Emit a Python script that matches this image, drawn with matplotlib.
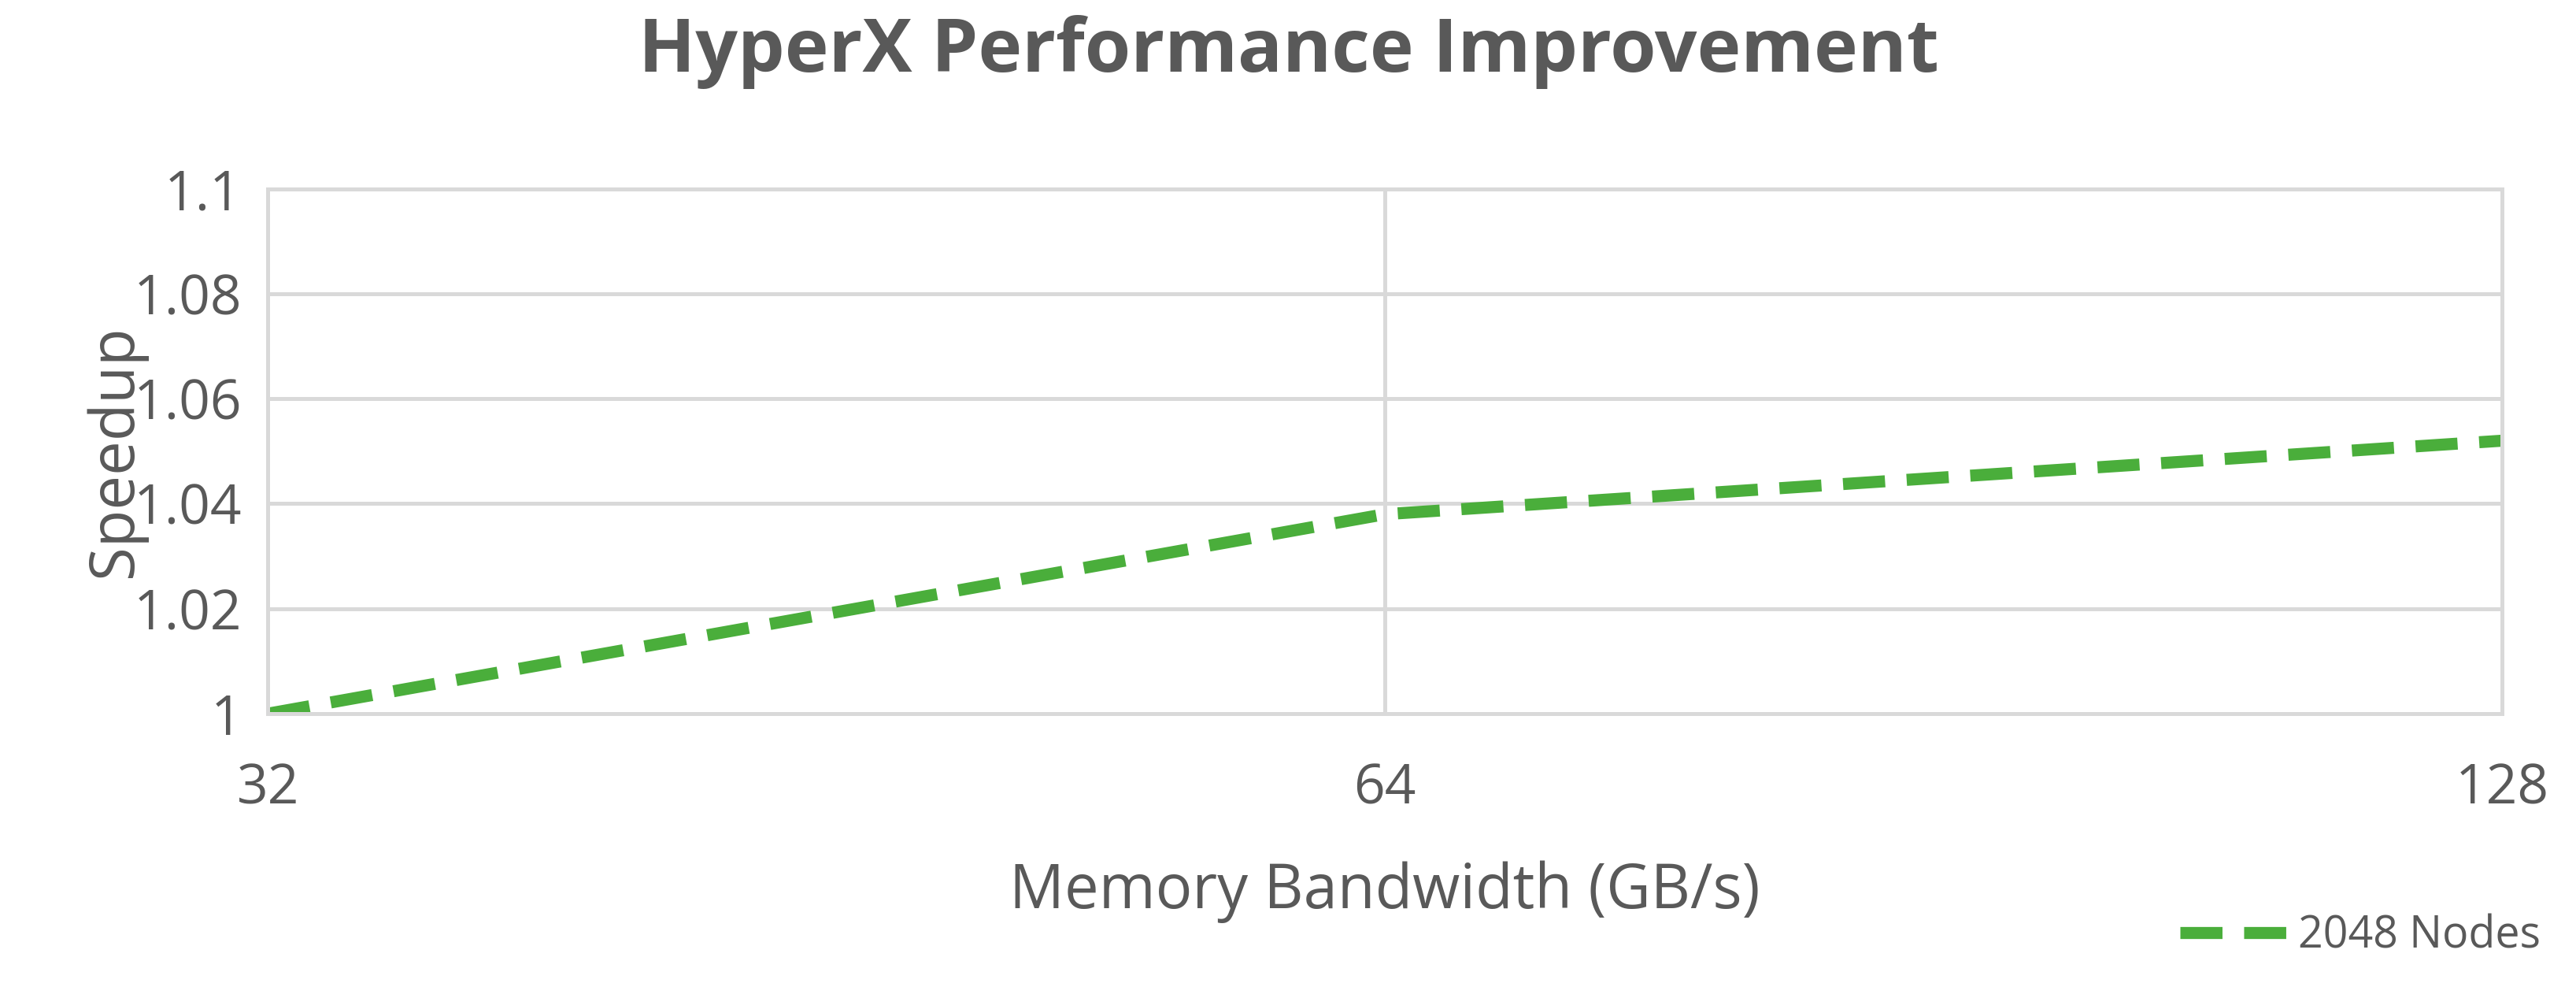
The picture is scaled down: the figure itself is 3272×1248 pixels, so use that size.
import matplotlib
matplotlib.use("Agg")
import matplotlib.pyplot as plt

bandwidth = ["32", "64", "128"]
speedup = [1.0, 1.038, 1.052]
series_label = "2048 Nodes"

plt.rcParams["font.family"] = ["Open Sans", "DejaVu Sans"]
TXT = "#595959"

fig = plt.figure(figsize=(16.365, 6.24), dpi=200)
ax = fig.add_axes([0.104, 0.274, 0.867, 0.534])

x = list(range(len(bandwidth)))
ax.plot(x, speedup, color="#4aae3b", linewidth=5.5, dashes=(3.5, 1.8), label=series_label)

ax.set_xlim(0, 2)
ax.set_ylim(1.0, 1.1)
ax.set_xticks(x)
ax.set_xticklabels(bandwidth)
ax.set_yticks([1.0, 1.02, 1.04, 1.06, 1.08, 1.1])
ax.set_yticklabels(["1", "1.02", "1.04", "1.06", "1.08", "1.1"])
ax.tick_params(axis="both", length=0, labelsize=25, colors=TXT)
ax.tick_params(axis="x", pad=22)
ax.tick_params(axis="y", pad=12)
ax.grid(True, color="#d9d9d9", linewidth=1.8)
for s in ax.spines.values():
    s.set_color("#d9d9d9")
    s.set_linewidth(1.8)

ax.set_xlabel("Memory Bandwidth (GB/s)", fontsize=28, color=TXT, labelpad=20)
ax.set_ylabel("Speedup", fontsize=28, color=TXT, labelpad=-6)
fig.suptitle("HyperX Performance Improvement", fontsize=34, fontweight="bold",
             color=TXT, y=0.985)

leg = ax.legend(loc="center right", bbox_to_anchor=(1.035, -0.425), frameon=False,
                fontsize=20, handlelength=2.6, handletextpad=0.1)
for t in leg.get_texts():
    t.set_color(TXT)

fig.savefig("out.png", dpi=200)
